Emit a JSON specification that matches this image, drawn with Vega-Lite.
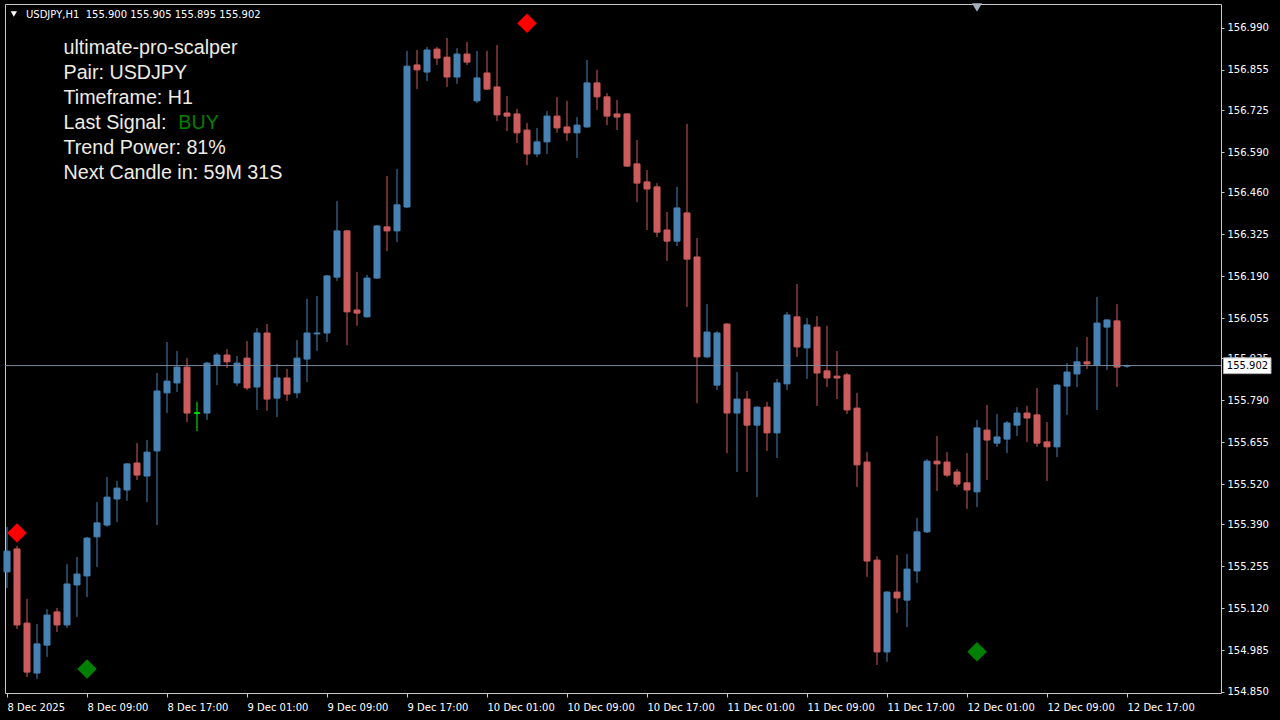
{
  "$schema": "https://vega.github.io/schema/vega-lite/v6.json",
  "width": 1216,
  "height": 689,
  "autosize": {"type": "none"},
  "padding": {"left": 5, "top": 4, "right": 59, "bottom": 27},
  "background": "#000000",
  "config": {
    "view": {"stroke": "#c8c8c8", "strokeWidth": 1},
    "axis": {"grid": false, "domain": false, "labelColor": "#ffffff", "tickColor": "#c8c8c8", "labelFont": "DejaVu Sans", "labelFontSize": 10, "titleColor": "#ffffff"}
  },
  "layer": [
    {
      "data": {
        "values": [
          {"t": "2025-12-08 01:00", "o": 155.237, "h": 155.382, "l": 155.185, "c": 155.304},
          {"t": "2025-12-08 02:00", "o": 155.311, "h": 155.321, "l": 155.053, "c": 155.066},
          {"t": "2025-12-08 03:00", "o": 155.072, "h": 155.150, "l": 154.898, "c": 154.914},
          {"t": "2025-12-08 04:00", "o": 154.911, "h": 155.069, "l": 154.892, "c": 155.005},
          {"t": "2025-12-08 05:00", "o": 155.001, "h": 155.117, "l": 154.963, "c": 155.098},
          {"t": "2025-12-08 06:00", "o": 155.108, "h": 155.121, "l": 155.043, "c": 155.066},
          {"t": "2025-12-08 07:00", "o": 155.066, "h": 155.262, "l": 155.056, "c": 155.198},
          {"t": "2025-12-08 08:00", "o": 155.195, "h": 155.285, "l": 155.092, "c": 155.230},
          {"t": "2025-12-08 09:00", "o": 155.224, "h": 155.350, "l": 155.156, "c": 155.346},
          {"t": "2025-12-08 10:00", "o": 155.350, "h": 155.462, "l": 155.253, "c": 155.395},
          {"t": "2025-12-08 11:00", "o": 155.388, "h": 155.543, "l": 155.382, "c": 155.478},
          {"t": "2025-12-08 12:00", "o": 155.472, "h": 155.530, "l": 155.398, "c": 155.507},
          {"t": "2025-12-08 13:00", "o": 155.501, "h": 155.588, "l": 155.466, "c": 155.585},
          {"t": "2025-12-08 14:00", "o": 155.588, "h": 155.652, "l": 155.533, "c": 155.549},
          {"t": "2025-12-08 15:00", "o": 155.546, "h": 155.662, "l": 155.462, "c": 155.623},
          {"t": "2025-12-08 16:00", "o": 155.627, "h": 155.878, "l": 155.388, "c": 155.820},
          {"t": "2025-12-08 17:00", "o": 155.814, "h": 155.978, "l": 155.749, "c": 155.852},
          {"t": "2025-12-08 18:00", "o": 155.846, "h": 155.949, "l": 155.817, "c": 155.897},
          {"t": "2025-12-08 19:00", "o": 155.897, "h": 155.926, "l": 155.720, "c": 155.749},
          {"t": "2025-12-08 20:00", "o": 155.749, "h": 155.785, "l": 155.691, "c": 155.749},
          {"t": "2025-12-08 21:00", "o": 155.749, "h": 155.914, "l": 155.727, "c": 155.910},
          {"t": "2025-12-08 22:00", "o": 155.904, "h": 155.943, "l": 155.839, "c": 155.936},
          {"t": "2025-12-08 23:00", "o": 155.936, "h": 155.955, "l": 155.894, "c": 155.914},
          {"t": "2025-12-09 00:00", "o": 155.846, "h": 155.933, "l": 155.836, "c": 155.910},
          {"t": "2025-12-09 01:00", "o": 155.926, "h": 155.981, "l": 155.823, "c": 155.830},
          {"t": "2025-12-09 02:00", "o": 155.833, "h": 156.023, "l": 155.759, "c": 156.007},
          {"t": "2025-12-09 03:00", "o": 156.007, "h": 156.036, "l": 155.756, "c": 155.794},
          {"t": "2025-12-09 04:00", "o": 155.797, "h": 155.907, "l": 155.736, "c": 155.862},
          {"t": "2025-12-09 05:00", "o": 155.862, "h": 155.891, "l": 155.788, "c": 155.810},
          {"t": "2025-12-09 06:00", "o": 155.814, "h": 155.984, "l": 155.797, "c": 155.926},
          {"t": "2025-12-09 07:00", "o": 155.923, "h": 156.117, "l": 155.849, "c": 156.007},
          {"t": "2025-12-09 08:00", "o": 156.004, "h": 156.126, "l": 155.949, "c": 156.007},
          {"t": "2025-12-09 09:00", "o": 156.007, "h": 156.194, "l": 155.978, "c": 156.191},
          {"t": "2025-12-09 10:00", "o": 156.187, "h": 156.432, "l": 156.175, "c": 156.336},
          {"t": "2025-12-09 11:00", "o": 156.336, "h": 156.339, "l": 155.968, "c": 156.075},
          {"t": "2025-12-09 12:00", "o": 156.081, "h": 156.204, "l": 156.030, "c": 156.071},
          {"t": "2025-12-09 13:00", "o": 156.059, "h": 156.194, "l": 156.057, "c": 156.184},
          {"t": "2025-12-09 14:00", "o": 156.184, "h": 156.355, "l": 156.181, "c": 156.352},
          {"t": "2025-12-09 15:00", "o": 156.349, "h": 156.513, "l": 156.271, "c": 156.336},
          {"t": "2025-12-09 16:00", "o": 156.336, "h": 156.536, "l": 156.300, "c": 156.420},
          {"t": "2025-12-09 17:00", "o": 156.413, "h": 156.916, "l": 156.410, "c": 156.867},
          {"t": "2025-12-09 18:00", "o": 156.871, "h": 156.919, "l": 156.793, "c": 156.855},
          {"t": "2025-12-09 19:00", "o": 156.848, "h": 156.929, "l": 156.819, "c": 156.919},
          {"t": "2025-12-09 20:00", "o": 156.922, "h": 156.929, "l": 156.871, "c": 156.893},
          {"t": "2025-12-09 21:00", "o": 156.896, "h": 156.958, "l": 156.800, "c": 156.832},
          {"t": "2025-12-09 22:00", "o": 156.832, "h": 156.925, "l": 156.810, "c": 156.906},
          {"t": "2025-12-09 23:00", "o": 156.906, "h": 156.945, "l": 156.871, "c": 156.880},
          {"t": "2025-12-10 00:00", "o": 156.755, "h": 156.916, "l": 156.748, "c": 156.829},
          {"t": "2025-12-10 01:00", "o": 156.845, "h": 156.916, "l": 156.790, "c": 156.793},
          {"t": "2025-12-10 02:00", "o": 156.800, "h": 156.935, "l": 156.690, "c": 156.710},
          {"t": "2025-12-10 03:00", "o": 156.716, "h": 156.771, "l": 156.658, "c": 156.706},
          {"t": "2025-12-10 04:00", "o": 156.713, "h": 156.729, "l": 156.619, "c": 156.652},
          {"t": "2025-12-10 05:00", "o": 156.661, "h": 156.684, "l": 156.548, "c": 156.584},
          {"t": "2025-12-10 06:00", "o": 156.584, "h": 156.668, "l": 156.574, "c": 156.623},
          {"t": "2025-12-10 07:00", "o": 156.623, "h": 156.722, "l": 156.584, "c": 156.706},
          {"t": "2025-12-10 08:00", "o": 156.706, "h": 156.768, "l": 156.652, "c": 156.668},
          {"t": "2025-12-10 09:00", "o": 156.671, "h": 156.755, "l": 156.626, "c": 156.652},
          {"t": "2025-12-10 10:00", "o": 156.652, "h": 156.703, "l": 156.571, "c": 156.677},
          {"t": "2025-12-10 11:00", "o": 156.671, "h": 156.887, "l": 156.669, "c": 156.813},
          {"t": "2025-12-10 12:00", "o": 156.813, "h": 156.855, "l": 156.726, "c": 156.768},
          {"t": "2025-12-10 13:00", "o": 156.768, "h": 156.780, "l": 156.677, "c": 156.706},
          {"t": "2025-12-10 14:00", "o": 156.713, "h": 156.758, "l": 156.661, "c": 156.703},
          {"t": "2025-12-10 15:00", "o": 156.713, "h": 156.715, "l": 156.542, "c": 156.545},
          {"t": "2025-12-10 16:00", "o": 156.552, "h": 156.629, "l": 156.429, "c": 156.490},
          {"t": "2025-12-10 17:00", "o": 156.494, "h": 156.532, "l": 156.339, "c": 156.471},
          {"t": "2025-12-10 18:00", "o": 156.478, "h": 156.490, "l": 156.316, "c": 156.332},
          {"t": "2025-12-10 19:00", "o": 156.339, "h": 156.397, "l": 156.239, "c": 156.303},
          {"t": "2025-12-10 20:00", "o": 156.303, "h": 156.478, "l": 156.287, "c": 156.410},
          {"t": "2025-12-10 21:00", "o": 156.394, "h": 156.681, "l": 156.091, "c": 156.245},
          {"t": "2025-12-10 22:00", "o": 156.252, "h": 156.313, "l": 155.781, "c": 155.930},
          {"t": "2025-12-10 23:00", "o": 155.930, "h": 156.100, "l": 155.926, "c": 156.010},
          {"t": "2025-12-11 00:00", "o": 155.839, "h": 156.013, "l": 155.823, "c": 156.007},
          {"t": "2025-12-11 01:00", "o": 156.036, "h": 156.038, "l": 155.620, "c": 155.749},
          {"t": "2025-12-11 02:00", "o": 155.749, "h": 155.881, "l": 155.559, "c": 155.794},
          {"t": "2025-12-11 03:00", "o": 155.794, "h": 155.820, "l": 155.559, "c": 155.710},
          {"t": "2025-12-11 04:00", "o": 155.710, "h": 155.772, "l": 155.478, "c": 155.768},
          {"t": "2025-12-11 05:00", "o": 155.768, "h": 155.785, "l": 155.627, "c": 155.685},
          {"t": "2025-12-11 06:00", "o": 155.685, "h": 155.859, "l": 155.604, "c": 155.846},
          {"t": "2025-12-11 07:00", "o": 155.843, "h": 156.075, "l": 155.823, "c": 156.065},
          {"t": "2025-12-11 08:00", "o": 156.059, "h": 156.165, "l": 155.930, "c": 155.962},
          {"t": "2025-12-11 09:00", "o": 155.959, "h": 156.055, "l": 155.859, "c": 156.033},
          {"t": "2025-12-11 10:00", "o": 156.026, "h": 156.062, "l": 155.772, "c": 155.878},
          {"t": "2025-12-11 11:00", "o": 155.885, "h": 156.030, "l": 155.833, "c": 155.862},
          {"t": "2025-12-11 12:00", "o": 155.868, "h": 155.949, "l": 155.794, "c": 155.862},
          {"t": "2025-12-11 13:00", "o": 155.872, "h": 155.878, "l": 155.746, "c": 155.759},
          {"t": "2025-12-11 14:00", "o": 155.765, "h": 155.814, "l": 155.511, "c": 155.582},
          {"t": "2025-12-11 15:00", "o": 155.591, "h": 155.623, "l": 155.221, "c": 155.272},
          {"t": "2025-12-11 16:00", "o": 155.275, "h": 155.288, "l": 154.937, "c": 154.979},
          {"t": "2025-12-11 17:00", "o": 154.979, "h": 155.175, "l": 154.947, "c": 155.172},
          {"t": "2025-12-11 18:00", "o": 155.172, "h": 155.291, "l": 155.105, "c": 155.153},
          {"t": "2025-12-11 19:00", "o": 155.146, "h": 155.295, "l": 155.059, "c": 155.246},
          {"t": "2025-12-11 20:00", "o": 155.240, "h": 155.411, "l": 155.201, "c": 155.366},
          {"t": "2025-12-11 21:00", "o": 155.366, "h": 155.601, "l": 155.362, "c": 155.594},
          {"t": "2025-12-11 22:00", "o": 155.594, "h": 155.675, "l": 155.498, "c": 155.585},
          {"t": "2025-12-11 23:00", "o": 155.591, "h": 155.623, "l": 155.543, "c": 155.549},
          {"t": "2025-12-12 00:00", "o": 155.559, "h": 155.569, "l": 155.511, "c": 155.520},
          {"t": "2025-12-12 01:00", "o": 155.524, "h": 155.620, "l": 155.440, "c": 155.501},
          {"t": "2025-12-12 02:00", "o": 155.495, "h": 155.727, "l": 155.446, "c": 155.701},
          {"t": "2025-12-12 03:00", "o": 155.694, "h": 155.775, "l": 155.533, "c": 155.662},
          {"t": "2025-12-12 04:00", "o": 155.652, "h": 155.746, "l": 155.640, "c": 155.672},
          {"t": "2025-12-12 05:00", "o": 155.665, "h": 155.723, "l": 155.620, "c": 155.717},
          {"t": "2025-12-12 06:00", "o": 155.710, "h": 155.768, "l": 155.675, "c": 155.749},
          {"t": "2025-12-12 07:00", "o": 155.749, "h": 155.772, "l": 155.656, "c": 155.733},
          {"t": "2025-12-12 08:00", "o": 155.743, "h": 155.830, "l": 155.640, "c": 155.652},
          {"t": "2025-12-12 09:00", "o": 155.656, "h": 155.720, "l": 155.530, "c": 155.640},
          {"t": "2025-12-12 10:00", "o": 155.640, "h": 155.843, "l": 155.607, "c": 155.839},
          {"t": "2025-12-12 11:00", "o": 155.836, "h": 155.910, "l": 155.743, "c": 155.881},
          {"t": "2025-12-12 12:00", "o": 155.875, "h": 155.962, "l": 155.833, "c": 155.914},
          {"t": "2025-12-12 13:00", "o": 155.914, "h": 155.994, "l": 155.891, "c": 155.907},
          {"t": "2025-12-12 14:00", "o": 155.904, "h": 156.123, "l": 155.759, "c": 156.039},
          {"t": "2025-12-12 15:00", "o": 156.026, "h": 156.051, "l": 155.888, "c": 156.049},
          {"t": "2025-12-12 16:00", "o": 156.046, "h": 156.100, "l": 155.833, "c": 155.897},
          {"t": "2025-12-12 17:00", "o": 155.900, "h": 155.905, "l": 155.895, "c": 155.902}
        ],
        "format": {"parse": {"t": "utc:'%Y-%m-%d %H:%M'"}}
      },
      "encoding": {
        "x": {
          "field": "t", "type": "temporal", "title": null,
          "scale": {"type": "utc", "domain": [1765154880000, 1765592640000], "nice": false, "padding": 0},
          "axis": {
            "orient": "bottom",
            "values": [1765155600000, 1765184400000, 1765213200000, 1765242000000, 1765270800000, 1765299600000, 1765328400000, 1765357200000, 1765386000000, 1765414800000, 1765443600000, 1765472400000, 1765501200000, 1765530000000, 1765558800000],
            "labelExpr": "utcdate(datum.value) == 8 && utchours(datum.value) == 1 ? '8 Dec 2025' : utcFormat(datum.value, '%-d %b %H:%M')",
            "labelAlign": "left", "labelBaseline": "top", "labelPadding": 5, "tickSize": 4,
            "labelOverlap": false, "labelFlush": false, "labelBound": false
          }
        }
      },
      "layer": [
        {
          "mark": {"type": "rule", "strokeWidth": 1},
          "encoding": {
            "y": {
              "field": "l", "type": "quantitative", "title": null,
              "scale": {"domain": [154.8467, 157.0673], "nice": false, "zero": false},
              "axis": {
                "orient": "right",
                "values": [156.99, 156.855, 156.725, 156.59, 156.46, 156.325, 156.19, 156.055, 155.925, 155.79, 155.655, 155.52, 155.39, 155.255, 155.12, 154.985, 154.85],
                "format": ".3f", "tickSize": 3, "labelPadding": 3, "labelBaseline": "middle"
              }
            },
            "y2": {"field": "h"},
            "color": {"condition": [{"test": "datum.c > datum.o", "value": "#4682b4"}, {"test": "datum.c < datum.o", "value": "#cd5c5c"}], "value": "#00ff00"}
          }
        },
        {
          "mark": {"type": "bar", "width": 6, "strokeWidth": 1},
          "encoding": {
            "y": {"field": "o", "type": "quantitative", "title": null, "scale": {"domain": [154.8467, 157.0673], "nice": false, "zero": false}},
            "y2": {"field": "c"},
            "fill": {"condition": [{"test": "datum.c > datum.o", "value": "#4682b4"}, {"test": "datum.c < datum.o", "value": "#cd5c5c"}], "value": "#00ff00"},
            "stroke": {"condition": [{"test": "datum.c > datum.o", "value": "#4682b4"}, {"test": "datum.c < datum.o", "value": "#cd5c5c"}], "value": "#00ff00"}
          }
        }
      ]
    },
    {
      "data": {"values": [{"price": 155.902}]},
      "mark": {"type": "rule", "color": "#778899", "strokeWidth": 1},
      "encoding": {
        "y": {"field": "price", "type": "quantitative", "title": null, "scale": {"domain": [154.8467, 157.0673], "nice": false, "zero": false}}
      }
    },
    {
      "data": {
        "values": [
          {"t": "2025-12-08 02:00", "p": 155.362, "signal": "SELL"},
          {"t": "2025-12-08 09:00", "p": 154.924, "signal": "BUY"},
          {"t": "2025-12-10 05:00", "p": 157.005, "signal": "SELL"},
          {"t": "2025-12-12 02:00", "p": 154.980, "signal": "BUY"}
        ],
        "format": {"parse": {"t": "utc:'%Y-%m-%d %H:%M'"}}
      },
      "mark": {"type": "point", "shape": "diamond", "filled": true, "size": 380, "opacity": 1},
      "encoding": {
        "x": {"field": "t", "type": "temporal", "title": null, "scale": {"type": "utc", "domain": [1765154880000, 1765592640000], "nice": false, "padding": 0}},
        "y": {"field": "p", "type": "quantitative", "title": null, "scale": {"domain": [154.8467, 157.0673], "nice": false, "zero": false}},
        "color": {"field": "signal", "type": "nominal", "scale": {"domain": ["SELL", "BUY"], "range": ["#ff0000", "#008000"]}, "legend": null}
      }
    },
    {
      "data": {"values": [{}]},
      "mark": {"type": "rect", "fill": "#ffffff", "stroke": "#b0b0b0", "strokeWidth": 1},
      "encoding": {
        "x": {"datum": {"year": 2025, "month": 12, "date": 13, "hours": 2, "minutes": 39, "utc": true}, "type": "temporal", "title": null, "scale": {"type": "utc", "domain": [1765154880000, 1765592640000], "nice": false, "padding": 0}},
        "x2": {"datum": {"year": 2025, "month": 12, "date": 13, "hours": 7, "minutes": 24, "utc": true}},
        "y": {"datum": 155.927, "type": "quantitative", "title": null, "scale": {"domain": [154.8467, 157.0673], "nice": false, "zero": false}},
        "y2": {"datum": 155.876}
      }
    },
    {
      "data": {"values": [{}]},
      "mark": {"type": "text", "color": "#000000", "font": "DejaVu Sans", "fontSize": 10, "align": "center", "baseline": "middle"},
      "encoding": {
        "x": {"datum": {"year": 2025, "month": 12, "date": 13, "hours": 5, "minutes": 3, "utc": true}, "type": "temporal", "title": null, "scale": {"type": "utc", "domain": [1765154880000, 1765592640000], "nice": false, "padding": 0}},
        "y": {"datum": 155.902, "type": "quantitative", "title": null, "scale": {"domain": [154.8467, 157.0673], "nice": false, "zero": false}},
        "text": {"value": "155.902"}
      }
    },
    {
      "data": {"values": [{}]},
      "mark": {"type": "point", "shape": "triangle-down", "filled": true, "size": 40, "color": "#ffffff", "opacity": 1},
      "encoding": {
        "x": {"datum": {"year": 2025, "month": 12, "date": 8, "hours": 1, "minutes": 41, "utc": true}, "type": "temporal", "title": null, "scale": {"type": "utc", "domain": [1765154880000, 1765592640000], "nice": false, "padding": 0}},
        "y": {"datum": 157.035, "type": "quantitative", "title": null, "scale": {"domain": [154.8467, 157.0673], "nice": false, "zero": false}}
      }
    },
    {
      "data": {"values": [{}]},
      "mark": {"type": "text", "color": "#ffffff", "font": "DejaVu Sans", "fontSize": 10, "align": "left", "baseline": "alphabetic"},
      "encoding": {
        "x": {"datum": {"year": 2025, "month": 12, "date": 8, "hours": 2, "minutes": 54, "utc": true}, "type": "temporal", "title": null, "scale": {"type": "utc", "domain": [1765154880000, 1765592640000], "nice": false, "padding": 0}},
        "y": {"datum": 157.021, "type": "quantitative", "title": null, "scale": {"domain": [154.8467, 157.0673], "nice": false, "zero": false}},
        "text": {"value": "USDJPY,H1\u00a0\u00a0155.900 155.905 155.895 155.902"}
      }
    },
    {
      "data": {"values": [{}]},
      "mark": {"type": "point", "shape": "triangle-down", "filled": true, "size": 100, "color": "#a4afbd", "opacity": 1},
      "encoding": {
        "x": {"datum": {"year": 2025, "month": 12, "date": 12, "hours": 2, "minutes": 0, "utc": true}, "type": "temporal", "title": null, "scale": {"type": "utc", "domain": [1765154880000, 1765592640000], "nice": false, "padding": 0}},
        "y": {"datum": 157.056, "type": "quantitative", "title": null, "scale": {"domain": [154.8467, 157.0673], "nice": false, "zero": false}}
      }
    },
    {
      "data": {"values": [{}]},
      "mark": {"type": "text", "color": "#f0ece4", "font": "Liberation Sans", "fontSize": 19.7, "align": "left", "baseline": "alphabetic", "lineHeight": 25},
      "encoding": {
        "x": {"datum": {"year": 2025, "month": 12, "date": 8, "hours": 6, "minutes": 39, "utc": true}, "type": "temporal", "title": null, "scale": {"type": "utc", "domain": [1765154880000, 1765592640000], "nice": false, "padding": 0}},
        "y": {"datum": 156.905, "type": "quantitative", "title": null, "scale": {"domain": [154.8467, 157.0673], "nice": false, "zero": false}},
        "text": {"value": ["ultimate-pro-scalper", "Pair: USDJPY", "Timeframe: H1", "Last Signal:", "Trend Power: 81%", "Next Candle in: 59M 31S"]}
      }
    },
    {
      "data": {"values": [{}]},
      "mark": {"type": "text", "color": "#008000", "font": "Liberation Sans", "fontSize": 19.7, "align": "left", "baseline": "alphabetic"},
      "encoding": {
        "x": {"datum": {"year": 2025, "month": 12, "date": 8, "hours": 18, "minutes": 8, "utc": true}, "type": "temporal", "title": null, "scale": {"type": "utc", "domain": [1765154880000, 1765592640000], "nice": false, "padding": 0}},
        "y": {"datum": 156.6635, "type": "quantitative", "title": null, "scale": {"domain": [154.8467, 157.0673], "nice": false, "zero": false}},
        "text": {"value": "BUY"}
      }
    }
  ]
}
